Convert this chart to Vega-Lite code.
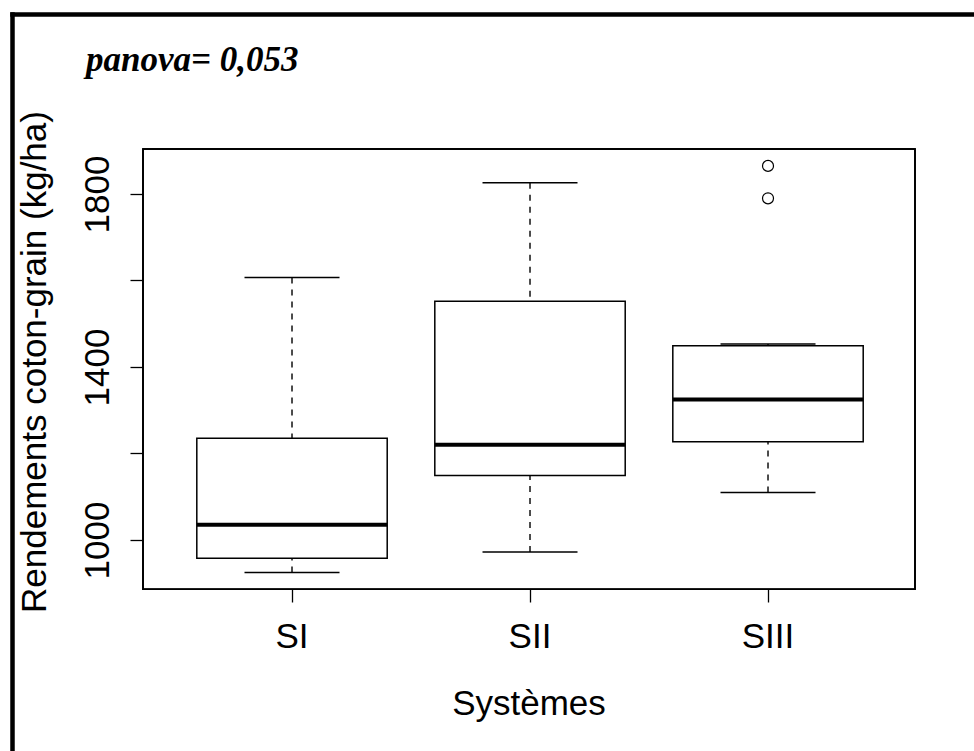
{
  "$schema": "https://vega.github.io/schema/vega-lite/v6.json",
  "width": 962,
  "height": 737,
  "autosize": "none",
  "padding": {"left": 12, "top": 14, "right": 0, "bottom": 0},
  "background": "white",
  "title": {
    "text": "panova= 0,053",
    "anchor": "start",
    "frame": "group",
    "font": "Liberation Serif",
    "fontSize": 35,
    "fontStyle": "italic",
    "fontWeight": "bold",
    "color": "black",
    "baseline": "alphabetic",
    "offset": 0,
    "dx": 74,
    "dy": 92
  },
  "datasets": {
    "boxes": [
      {"systeme": "SI", "lower": 925, "q1": 958, "median": 1035, "q3": 1235, "upper": 1607},
      {"systeme": "SII", "lower": 972, "q1": 1149, "median": 1220, "q3": 1552, "upper": 1826},
      {"systeme": "SIII", "lower": 1110, "q1": 1227, "median": 1325, "q3": 1449, "upper": 1453}
    ],
    "outliers": [
      {"systeme": "SIII", "rendement": 1790},
      {"systeme": "SIII", "rendement": 1865}
    ]
  },
  "layer": [
    {
      "data": {"name": "boxes"},
      "mark": {"type": "rect", "filled": false, "color": "black", "strokeWidth": 1.5},
      "encoding": {
        "x": {
          "datum": "SI", "type": "nominal", "bandPosition": -0.2826,
          "scale": {"type": "band", "domain": ["SI", "SII", "SIII"], "paddingInner": 0.2, "paddingOuter": 0.621, "align": 0.6252},
          "axis": {"orient": "top", "offset": 0, "domain": true, "domainColor": "black", "domainWidth": 4.5, "domainCap": "square", "ticks": false, "labels": false, "title": null}
        },
        "x2": {"datum": "SIII", "bandPosition": 1.272},
        "y": {
          "datum": 1904, "type": "quantitative",
          "scale": {"type": "linear", "domain": [512.1, 2216.2], "nice": false, "zero": false},
          "axis": {"orient": "left", "offset": 0, "domain": true, "domainColor": "black", "domainWidth": 4.5, "domainCap": "square", "ticks": false, "labels": false, "title": null}
        },
        "y2": {"datum": 886}
      }
    },
    {
      "data": {"name": "boxes"},
      "mark": {"type": "rule", "color": "black", "strokeWidth": 1.4, "strokeDash": [6, 6]},
      "encoding": {
        "x": {
          "field": "systeme", "type": "nominal",
          "axis": {
            "orient": "bottom", "offset": -162, "domain": false,
            "ticks": true, "tickSize": 13, "tickColor": "black", "tickWidth": 1.3,
            "labelFont": "Liberation Sans", "labelFontSize": 35, "labelColor": "black",
            "labelPadding": 45, "labelBaseline": "alphabetic", "labelAngle": 0,
            "title": "Systèmes", "titleFont": "Liberation Sans", "titleFontSize": 35,
            "titleFontWeight": "normal", "titleColor": "black",
            "titleX": 516.5, "titleY": 125, "titleBaseline": "alphabetic", "titleAlign": "center"
          }
        },
        "y": {
          "field": "upper", "type": "quantitative",
          "axis": {
            "orient": "left", "offset": -131, "domain": false,
            "values": [1000, 1200, 1400, 1600, 1800], "format": "d",
            "labelExpr": "datum.value == 1200 || datum.value == 1600 ? '' : datum.label",
            "tickSize": 13, "tickColor": "black", "tickWidth": 1.3,
            "labelAngle": -90, "labelAlign": "center", "labelBaseline": "alphabetic",
            "labelPadding": 22, "labelFont": "Liberation Sans", "labelFontSize": 35,
            "labelColor": "black", "labelOverlap": false, "labelFlush": false, "labelBound": false,
            "title": "Rendements coton-grain (kg/ha)", "titleFont": "Liberation Sans",
            "titleFontSize": 35, "titleFontWeight": "normal", "titleColor": "black",
            "titleAngle": -90, "titleX": -98, "titleY": 347.5,
            "titleBaseline": "alphabetic", "titleAlign": "center"
          }
        },
        "y2": {"field": "q3"}
      }
    },
    {
      "data": {"name": "boxes"},
      "mark": {"type": "rule", "color": "black", "strokeWidth": 1.4, "strokeDash": [6, 6]},
      "encoding": {
        "x": {"field": "systeme", "type": "nominal", "axis": null},
        "y": {"field": "lower", "type": "quantitative", "axis": null},
        "y2": {"field": "q1"}
      }
    },
    {
      "data": {"name": "boxes"},
      "mark": {"type": "bar", "fill": "white", "stroke": "black", "strokeWidth": 1.5},
      "encoding": {
        "x": {"field": "systeme", "type": "nominal", "axis": null},
        "y": {"field": "q1", "type": "quantitative", "axis": null},
        "y2": {"field": "q3"}
      }
    },
    {
      "data": {"name": "boxes"},
      "mark": {"type": "tick", "color": "black", "size": 190, "thickness": 4, "opacity": 1},
      "encoding": {
        "x": {"field": "systeme", "type": "nominal", "axis": null},
        "y": {"field": "median", "type": "quantitative", "axis": null}
      }
    },
    {
      "data": {"name": "boxes"},
      "mark": {"type": "tick", "color": "black", "size": 95, "thickness": 1.5, "opacity": 1},
      "encoding": {
        "x": {"field": "systeme", "type": "nominal", "axis": null},
        "y": {"field": "upper", "type": "quantitative", "axis": null}
      }
    },
    {
      "data": {"name": "boxes"},
      "mark": {"type": "tick", "color": "black", "size": 95, "thickness": 1.5, "opacity": 1},
      "encoding": {
        "x": {"field": "systeme", "type": "nominal", "axis": null},
        "y": {"field": "lower", "type": "quantitative", "axis": null}
      }
    },
    {
      "data": {"name": "outliers"},
      "mark": {"type": "point", "shape": "circle", "filled": false, "color": "black", "size": 121, "strokeWidth": 1.2, "opacity": 1},
      "encoding": {
        "x": {"field": "systeme", "type": "nominal", "axis": null},
        "y": {"field": "rendement", "type": "quantitative", "axis": null}
      }
    }
  ],
  "resolve": {"axis": {"x": "independent", "y": "independent"}},
  "config": {
    "view": {"stroke": null},
    "axis": {"grid": false}
  }
}
